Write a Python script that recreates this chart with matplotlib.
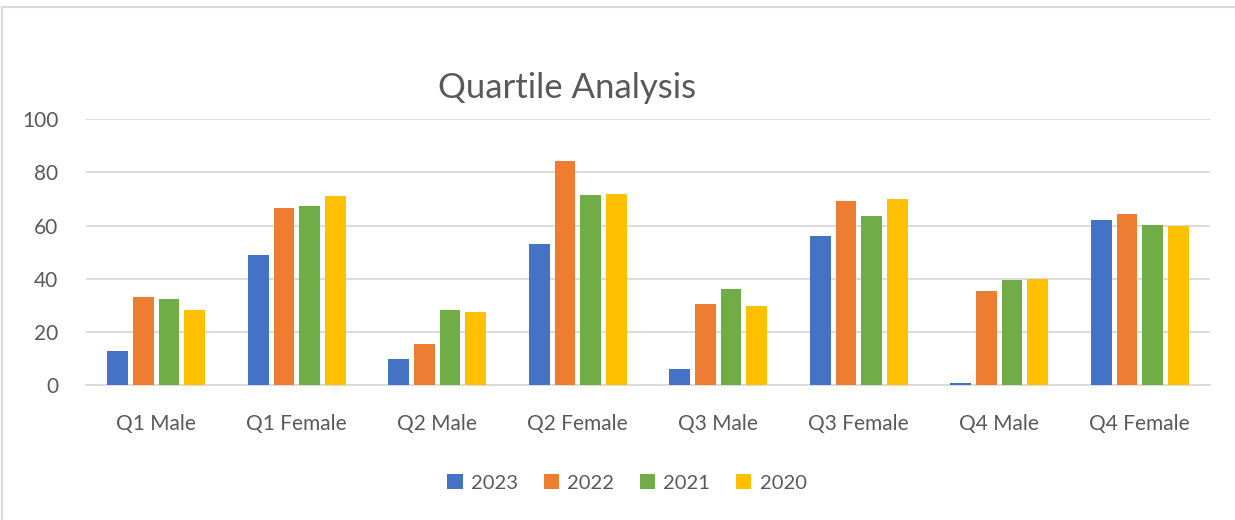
import numpy as np
import matplotlib.pyplot as plt
from matplotlib.patches import Rectangle

plt.rcParams['font.family'] = ['Lato', 'DejaVu Sans']

##################   Data  #########################

categories = ['Q1 Male', 'Q1 Female', 'Q2 Male', 'Q2 Female',
              'Q3 Male', 'Q3 Female', 'Q4 Male', 'Q4 Female']
years = ['2023', '2022', '2021', '2020']
v2023 = [13, 49, 10, 53, 6, 56, 1, 62]
v2022 = [33.3, 66.5, 15.7, 84.2, 30.6, 69.3, 35.5, 64.4]
v2021 = [32.5, 67.3, 28.3, 71.4, 36.2, 63.5, 39.7, 60.2]
v2020 = [28.4, 71.2, 27.7, 71.9, 29.8, 69.9, 40.0, 60.0]
colors = ['#4472C4', '#ED7D31', '#70AD47', '#FFC000']

###############   Plot  ########################

txt = '#595959'
fig = plt.figure(figsize=(12.35, 5.2), dpi=100)
fig.patches.append(Rectangle((2/1235, -0.05), 1.2, 1 - 7/520 + 0.05,
                             transform=fig.transFigure, fill=False,
                             edgecolor='#d9d9d9', linewidth=1.5))
ax = fig.add_axes([86/1235, 1 - 385.3/520, 1124/1235, 266/520])

x = np.arange(len(categories))
step = 0.182
for i, (vals, name) in enumerate(zip([v2023, v2022, v2021, v2020], years)):
    ax.bar(x + (i - 1.5)*step, vals, width=0.148, color=colors[i], label=name,
           zorder=3)

ax.set_xlim(-0.5, len(categories) - 0.5)
ax.set_ylim(0, 100)
ax.set_yticks(np.arange(0, 101, 20))
ax.set_xticks(x)
ax.set_xticklabels(categories)
ax.grid(axis='y', color='#d9d9d9', linewidth=1.3, zorder=0)
for s in ['top', 'right', 'left']:
    ax.spines[s].set_visible(False)
ax.spines['bottom'].set_color('#d9d9d9')
ax.spines['bottom'].set_linewidth(1.3)
ax.tick_params(axis='both', length=0, labelsize=15, colors=txt)
ax.tick_params(axis='x', pad=21)
ax.tick_params(axis='y', pad=20)

fig.text(567/1235, 1 - 88/520, 'Quartile Analysis', ha='center', va='center',
         fontsize=25, color=txt)

fig.legend(loc='center', bbox_to_anchor=(627/1235, 1 - 483/520), ncol=4,
           frameon=False, fontsize=14.5, labelcolor=txt, handlelength=0.75,
           handleheight=0.75, columnspacing=1.3, handletextpad=0.4)

fig.savefig('out.png', dpi=100)
